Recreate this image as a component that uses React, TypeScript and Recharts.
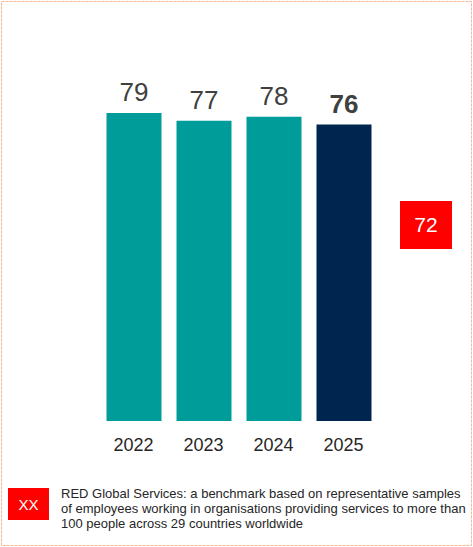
import { BarChart, Bar, XAxis, YAxis, Cell, LabelList } from 'recharts'

// ─────────────────────────────────────────
// Engagement score by year vs. RED Global Services benchmark
// ─────────────────────────────────────────

const years = ['2022', '2023', '2024', '2025']
const scores = [79, 77, 78, 76]
const benchmark = 72
const benchmarkName = 'RED Global Services'
const noteLines = [
  'RED Global Services: a benchmark based on representative samples',
  'of employees working in organisations providing services to more than',
  '100 people across 29 countries worldwide',
]

const TEAL = '#009C9A'
const NAVY = '#00264F'
const RED = '#FF0000'

const data = years.map((year, i) => ({ year, score: scores[i] }))
const lastIdx = data.length - 1

// Value label above each bar, current year in bold
function ValueLabel(props: any) {
  const { x, y, width, value, index } = props
  return (
    <text
      x={x + width / 2}
      y={y - 12}
      textAnchor="middle"
      fill="#404040"
      fontSize={26}
      fontWeight={index === lastIdx ? 'bold' : 'normal'}
      fontFamily="Liberation Sans, Arial, sans-serif"
    >
      {value}
    </text>
  )
}

export default function App() {
  return (
    <div
      style={{
        position: 'absolute',
        left: 0,
        top: 0,
        width: 473,
        height: 547,
        background: '#fff',
        fontFamily: 'Liberation Sans, Arial, sans-serif',
      }}
    >
      <BarChart
        width={473}
        height={547}
        data={data}
        margin={{ top: 31, right: 94.5, left: 98.5, bottom: 96 }}
        barSize={55}
        style={{ position: 'absolute', left: 0, top: 0 }}
      >
        <XAxis
          dataKey="year"
          axisLine={false}
          tickLine={false}
          height={30}
          tickMargin={11}
          tick={{ fill: '#262626', fontSize: 18, fontFamily: 'Liberation Sans, Arial, sans-serif' }}
        />
        <YAxis hide domain={[0, 100]} />
        <Bar dataKey="score" isAnimationActive={false}>
          {data.map((d, i) => (
            <Cell key={d.year} fill={i === lastIdx ? NAVY : TEAL} />
          ))}
          <LabelList dataKey="score" content={<ValueLabel />} />
        </Bar>
      </BarChart>

      {/* dotted frame */}
      <svg
        width={473}
        height={547}
        style={{ position: 'absolute', left: 0, top: 0, pointerEvents: 'none' }}
      >
        <rect
          x={1.5}
          y={1.5}
          width={470}
          height={544}
          fill="none"
          stroke="#F7B590"
          strokeWidth={1}
          strokeDasharray="3 1"
        />
      </svg>

      {/* benchmark box */}
      <div
        title={benchmarkName}
        style={{
          position: 'absolute',
          left: 400,
          top: 201,
          width: 52,
          height: 48,
          background: RED,
          color: '#fff',
          fontSize: 21,
          display: 'flex',
          alignItems: 'center',
          justifyContent: 'center',
        }}
      >
        {benchmark}
      </div>

      {/* legend note */}
      <div
        style={{
          position: 'absolute',
          left: 8,
          top: 488,
          width: 41,
          height: 32,
          background: RED,
          color: '#fff',
          fontSize: 15,
          display: 'flex',
          alignItems: 'center',
          justifyContent: 'center',
        }}
      >
        XX
      </div>
      <div
        style={{
          position: 'absolute',
          left: 61,
          top: 486,
          fontSize: 13,
          lineHeight: '15px',
          color: '#262626',
          whiteSpace: 'nowrap',
        }}
      >
        {noteLines.map((l) => (
          <div key={l}>{l}</div>
        ))}
      </div>
    </div>
  )
}
